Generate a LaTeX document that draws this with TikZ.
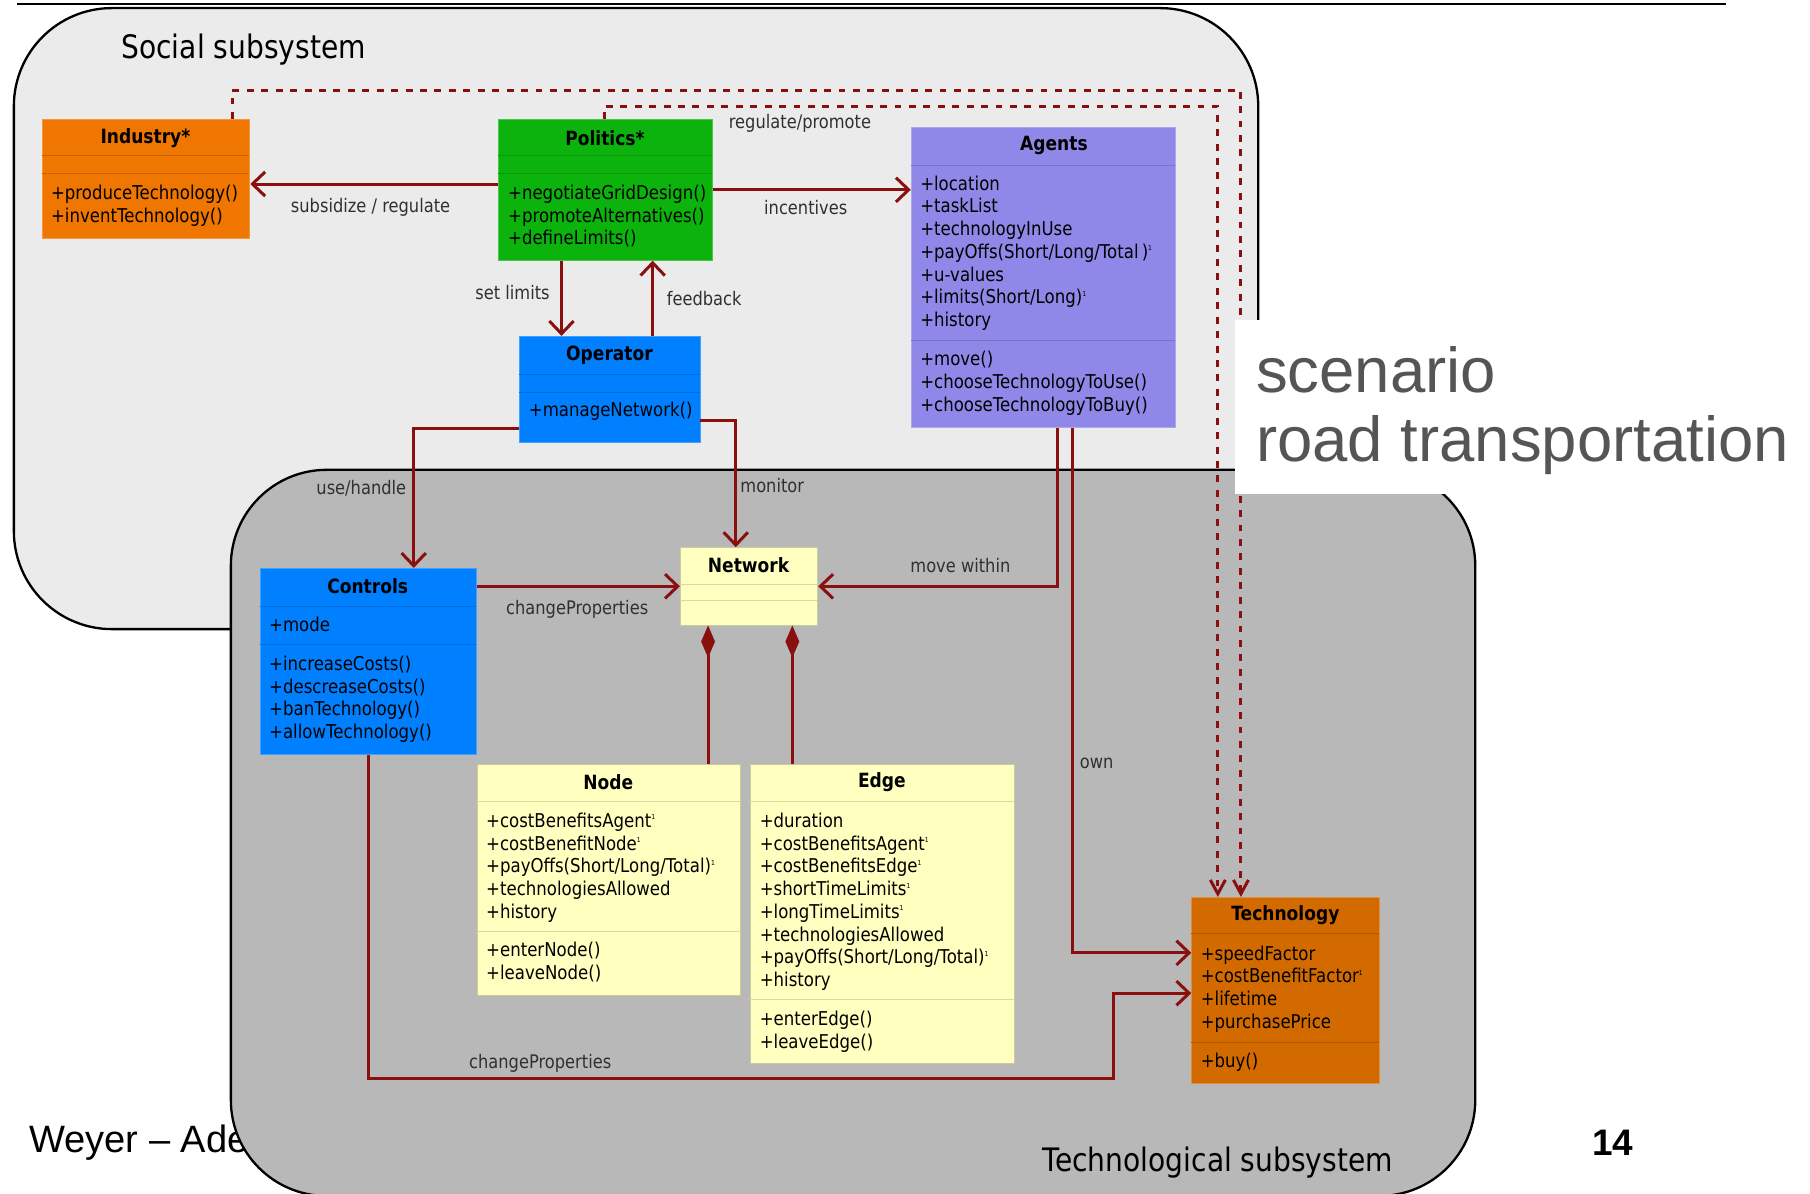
\documentclass[tikz,border=0pt]{standalone}
\usepackage{fontspec}
\setmainfont{DejaVu Sans}[FakeStretch=0.87]
\newfontfamily\slidefont{Liberation Sans}
\usetikzlibrary{arrows.meta}

\definecolor{socialbg}{HTML}{EBEBEB}
\definecolor{techbg}{HTML}{B8B8B8}
\definecolor{linkred}{HTML}{8A1010}
\definecolor{labelgray}{HTML}{303030}
\definecolor{scenariogray}{HTML}{555555}
\definecolor{industryorange}{HTML}{EF7600}
\definecolor{politicsgreen}{HTML}{0CB30C}
\definecolor{agentspurple}{HTML}{8F88E8}
\definecolor{controlblue}{HTML}{0080FF}
\definecolor{netyellow}{HTML}{FFFFC0}
\definecolor{techorange}{HTML}{D36A00}

\newcommand{\supone}{\raisebox{6.5pt}{\fontsize{6}{6}\selectfont 1}}

\begin{document}
\begin{tikzpicture}[x=1pt, y=-1pt,
    umlbox/.style={anchor=north west, inner sep=0pt, line width=0.8pt},
    divider/.style={line width=0.8pt},
    umltitle/.style={inner sep=0pt, font=\bfseries\fontsize{17}{19.7}\selectfont},
    umltext/.style={anchor=north west, inner sep=0pt, align=left, font=\fontsize{16.5}{19.7}\selectfont},
    link/.style={draw=linkred, line width=2.6pt, -{Straight Barb[length=11pt,width=21pt]}},
    depends/.style={draw=linkred, line width=2.6pt, dash pattern=on 6pt off 6.5pt, -{Straight Barb[length=12pt,width=13pt]}},
    partof/.style={draw=linkred, line width=2.6pt, {Diamond[length=28pt,width=12pt]}-},
    linklabel/.style={text=labelgray, inner sep=1pt, font=\fontsize{16.2}{19.7}\selectfont},
    bigtitle/.style={inner sep=0pt, font=\fontsize{28}{33}\selectfont}
  ]
  \useasboundingbox (0,0) rectangle (1568,1034);

  % slide footer
  \node[anchor=west, inner sep=0pt, font=\slidefont\fontsize{33}{38}\selectfont] (author) at (25,990) {Weyer – Ade};
  \node[inner sep=0pt, font=\slidefont\bfseries\fontsize{32}{38}\selectfont] (pagenum) at (1397,990) {14};
  \draw[line width=1.5pt] (15,3.5) -- (1495,3.5);

  % subsystems
  \draw[fill=socialbg, line width=2pt, rounded corners=85pt] (12,7) rectangle (1090,545);
  \node[bigtitle, anchor=west] (social-title) at (105,43) {Social subsystem};
  \draw[fill=techbg, line width=2pt, rounded corners=83pt] (200,407) rectangle (1278,1036);
  \node[bigtitle] (tech-title) at (1055,1007) {Technological subsystem};

  % Industry
  \node[umlbox, fill=industryorange, draw=industryorange!75!white, minimum width=180pt, minimum height=103pt] (industry) at (36,103) {};
  \draw[divider, industryorange!85!black] (industry.north west) ++(0,32) -- ++(180,0);
  \draw[divider, industryorange!85!black] (industry.north west) ++(0,47) -- ++(180,0);
  \node[umltitle] (industry-name) at (126,120) {Industry*};
  \node[umltext] (industry-ops) at (44,160) {+produceTechnology()\\+inventTechnology()};

  % Politics
  \node[umlbox, fill=politicsgreen, draw=politicsgreen!75!white, minimum width=186pt, minimum height=122pt] (politics) at (431,103) {};
  \draw[divider, politicsgreen!85!black] (politics.north west) ++(0,32) -- ++(186,0);
  \draw[divider, politicsgreen!85!black] (politics.north west) ++(0,47) -- ++(186,0);
  \node[umltitle] (politics-name) at (524,120) {Politics*};
  \node[umltext] (politics-ops) at (440,160) {+negotiateGridDesign()\\+promoteAlternatives()\\+defineLimits()};

  % Agents
  \node[umlbox, fill=agentspurple, draw=agentspurple!75!white, minimum width=229pt, minimum height=260pt] (agents) at (789,110) {};
  \draw[divider, agentspurple!85!black] (agents.north west) ++(0,33) -- ++(229,0);
  \draw[divider, agentspurple!85!black] (agents.north west) ++(0,185) -- ++(229,0);
  \node[umltitle] (agents-name) at (913,126) {Agents};
  \node[umltext] (agents-attr) at (797,152) {+location\\+taskList\\+technologyInUse\\+payOffs(Short/Long/Total\,)\supone\\+u-values\\+limits(Short/Long)\supone\\+history};
  \node[umltext] (agents-ops) at (797,304) {+move()\\+chooseTechnologyToUse()\\+chooseTechnologyToBuy()};

  % Operator
  \node[umlbox, fill=controlblue, draw=controlblue!75!white, minimum width=156pt, minimum height=92pt] (operator) at (450,291) {};
  \draw[divider, controlblue!85!black] (operator.north west) ++(0,33) -- ++(156,0);
  \draw[divider, controlblue!85!black] (operator.north west) ++(0,49) -- ++(156,0);
  \node[umltitle] (operator-name) at (528,308) {Operator};
  \node[umltext] (operator-ops) at (458,348) {+manageNetwork()};

  % Controls
  \node[umlbox, fill=controlblue, draw=controlblue!75!white, minimum width=187pt, minimum height=161pt] (controls) at (225,492) {};
  \draw[divider, controlblue!85!black] (controls.north west) ++(0,33) -- ++(187,0);
  \draw[divider, controlblue!85!black] (controls.north west) ++(0,66) -- ++(187,0);
  \node[umltitle] (controls-name) at (318.5,508) {Controls};
  \node[umltext] (controls-attr) at (233,534) {+mode};
  \node[umltext] (controls-ops) at (233,568) {+increaseCosts()\\+descreaseCosts()\\+banTechnology()\\+allowTechnology()};

  % Network
  \node[umlbox, fill=netyellow, draw=netyellow!80!black, minimum width=119pt, minimum height=67pt] (network) at (589,474) {};
  \draw[divider, netyellow!85!black] (network.north west) ++(0,32) -- ++(119,0);
  \draw[divider, netyellow!85!black] (network.north west) ++(0,46) -- ++(119,0);
  \node[umltitle] (network-name) at (648.5,490) {Network};

  % Node
  \node[umlbox, fill=netyellow, draw=netyellow!80!black, minimum width=228pt, minimum height=200pt] (roadnode) at (413,662) {};
  \draw[divider, netyellow!85!black] (roadnode.north west) ++(0,32) -- ++(228,0);
  \draw[divider, netyellow!85!black] (roadnode.north west) ++(0,145) -- ++(228,0);
  \node[umltitle] (roadnode-name) at (527,678) {Node};
  \node[umltext] (roadnode-attr) at (421,704) {+costBenefitsAgent\supone\\+costBenefitNode\supone\\+payOffs(Short/Long/Total)\supone\\+technologiesAllowed\\+history};
  \node[umltext] (roadnode-ops) at (421,816) {+enterNode()\\+leaveNode()};

  % Edge
  \node[umlbox, fill=netyellow, draw=netyellow!80!black, minimum width=228pt, minimum height=259pt] (roadedge) at (650,662) {};
  \draw[divider, netyellow!85!black] (roadedge.north west) ++(0,32) -- ++(228,0);
  \draw[divider, netyellow!85!black] (roadedge.north west) ++(0,204) -- ++(228,0);
  \node[umltitle] (roadedge-name) at (764,678) {Edge};
  \node[umltext] (roadedge-attr) at (658,704) {+duration\\+costBenefitsAgent\supone\\+costBenefitsEdge\supone\\+shortTimeLimits\supone\\+longTimeLimits\supone\\+technologiesAllowed\\+payOffs(Short/Long/Total)\supone\\+history};
  \node[umltext] (roadedge-ops) at (658,876) {+enterEdge()\\+leaveEdge()};

  % Technology
  \node[umlbox, fill=techorange, draw=techorange!75!white, minimum width=163pt, minimum height=161pt] (technology) at (1032,777) {};
  \draw[divider, techorange!85!black] (technology.north west) ++(0,32) -- ++(163,0);
  \draw[divider, techorange!85!black] (technology.north west) ++(0,126) -- ++(163,0);
  \node[umltitle] (technology-name) at (1113.5,793) {Technology};
  \node[umltext] (technology-attr) at (1040,819) {+speedFactor\\+costBenefitFactor\supone\\+lifetime\\+purchasePrice};
  \node[umltext] (technology-ops) at (1040,912) {+buy()};

  % dependencies
  \coordinate (ind-dep) at (1075,78);
  \coordinate (pol-dep) at (1055,92);
  \draw[depends] ([xshift=75pt]industry.north) |- (ind-dep) -- (ind-dep |- technology.north);
  \draw[depends] ([xshift=-1pt]politics.north) |- (pol-dep) -- (pol-dep |- technology.north);

  % associations
  \draw[link] ([yshift=5pt]politics.west) -- ([yshift=5pt]politics.west -| industry.east);
  \draw[link] (politics.east) -- (politics.east -| agents.west);
  \draw[link] ([xshift=-38pt]politics.south) -- ([xshift=-38pt]politics.south |- operator.north);
  \draw[link] ([xshift=41pt]politics.south |- operator.north) -- ([xshift=41pt]politics.south);
  \draw[link] ([yshift=-34pt]operator.west) -| ([xshift=39.5pt]controls.north);
  \draw[link] ([yshift=-27pt]operator.east) -| ([xshift=-11.5pt]network.north);
  \draw[link] (network.west -| controls.east) -- (network.west);
  \draw[link] ([xshift=12.5pt]agents.south) |- (network.east);
  \draw[link] ([xshift=25.5pt]agents.south) |- ([yshift=32.5pt]technology.west);
  \coordinate (ctl-bend) at (965,934);
  \draw[link] (controls.south) |- (ctl-bend) |- ([yshift=-2.5pt]technology.west);

  % compositions
  \draw[partof] ([xshift=-35.5pt]network.south) -- ([xshift=-35.5pt]network.south |- roadnode.north);
  \draw[partof] ([xshift=37.5pt]network.south) -- ([xshift=37.5pt]network.south |- roadedge.north);

  % labels
  \node[linklabel] (lbl-subsidize) at (321,180) {subsidize / regulate};
  \node[linklabel] (lbl-incentives) at (698,180) {incentives};
  \node[linklabel] (lbl-setlimits) at (444,253) {set limits};
  \node[linklabel] (lbl-feedback) at (610,259) {feedback};
  \node[linklabel] (lbl-regulate) at (693,107) {regulate/promote};
  \node[linklabel] (lbl-use) at (313,423) {use/handle};
  \node[linklabel] (lbl-monitor) at (669,421) {monitor};
  \node[linklabel] (lbl-change1) at (500,528) {changeProperties};
  \node[linklabel] (lbl-move) at (832,490) {move within};
  \node[linklabel] (lbl-own) at (950,661) {own};
  \node[linklabel] (lbl-change2) at (468,921) {changeProperties};

  % slide title box
  \fill[white] (1070,277) rectangle (1568,428);
  \node[anchor=north west, inner sep=0pt, align=left, text=scenariogray, font=\slidefont\fontsize{55}{60}\selectfont] (scenario) at (1088,300) {scenario\\road transportation};
\end{tikzpicture}
\end{document}
